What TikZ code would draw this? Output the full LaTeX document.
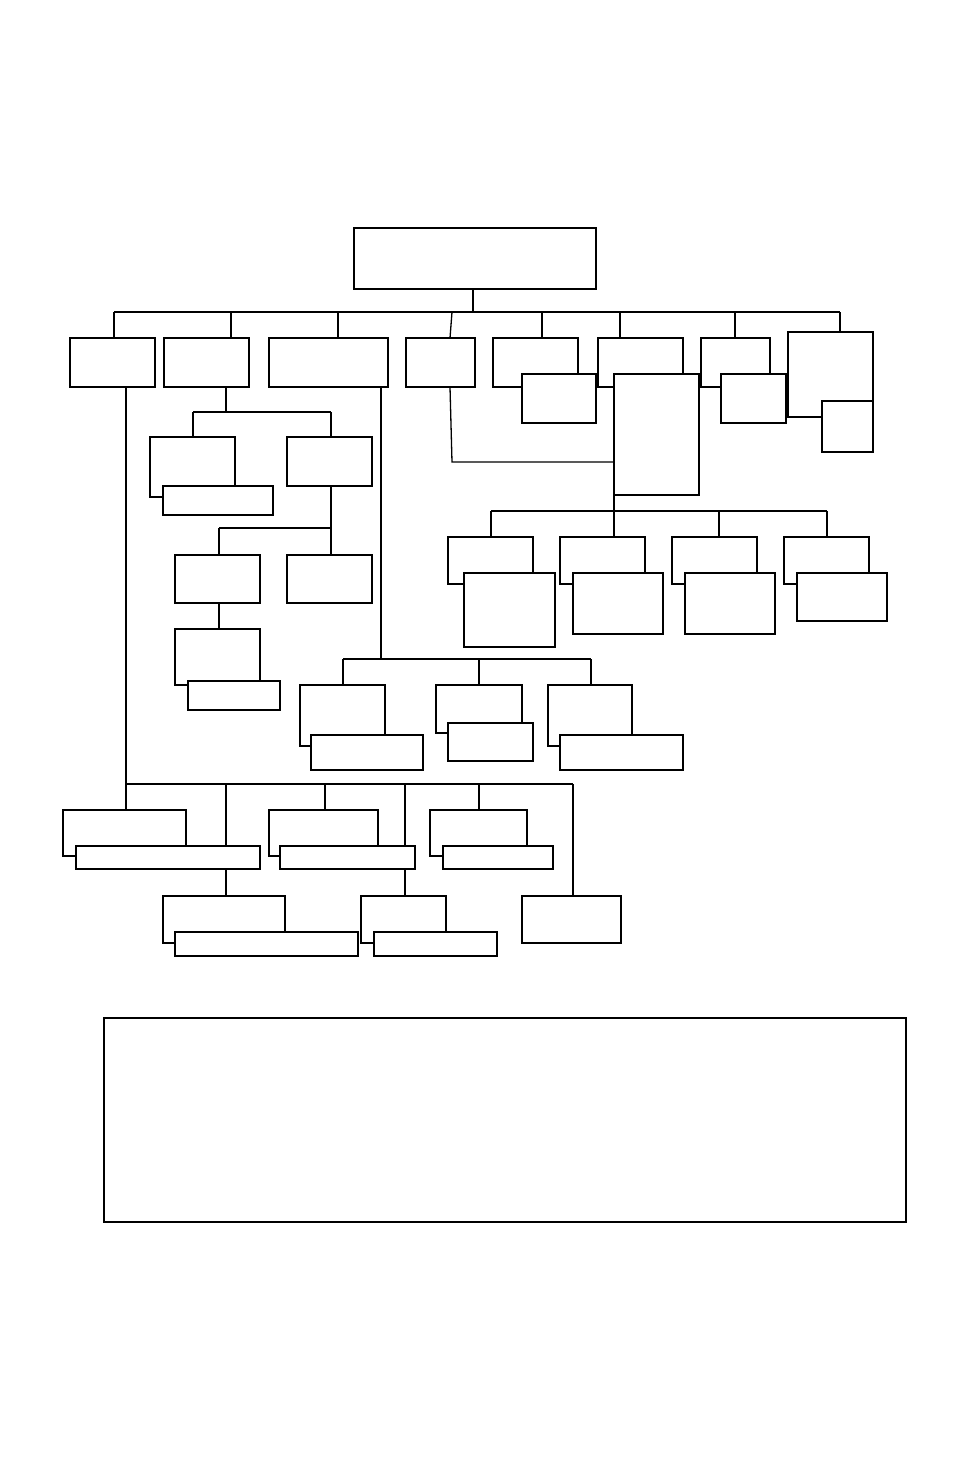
\documentclass[tikz,border=0pt]{standalone}
\usetikzlibrary{fit,backgrounds}
\begin{document}
\begin{tikzpicture}[x=1pt,y=-1pt,
  box/.style={draw, line width=1.8pt, fill=white, inner sep=0pt, outer sep=0pt},
  tbox/.style={box, line width=1.3pt},
  wire/.style={line width=1.8pt},
  twire/.style={line width=1.3pt}]
\useasboundingbox (0,0) rectangle (954,1475);
% boxes
\node[box, fit={(354,228) (596,289)}] (top) {};
\node[box, fit={(70,338) (155,387)}] (A) {};
\node[box, fit={(164,338) (249,387)}] (B) {};
\node[box, fit={(269,338) (388,387)}] (C) {};
\node[box, fit={(406,338) (475,387)}] (D) {};
\node[box, fit={(493,338) (578,387)}] (E) {};
\node[box, fit={(522,374) (596,423)}] (Es) {};
\node[box, fit={(598,338) (683,387)}] (F) {};
\node[box, fit={(614,374) (699,495)}] (Fs) {};
\node[box, fit={(701,338) (770,387)}] (G) {};
\node[box, fit={(721,374) (786,423)}] (Gs) {};
\node[box, fit={(788,332) (873,417)}] (H) {};
\node[box, fit={(822,401) (873,452)}] (Hs) {};
\node[box, fit={(150,437) (235,497)}] (B1) {};
\node[box, fit={(163,486) (273,515)}] (B1s) {};
\node[box, fit={(287,437) (372,486)}] (B2) {};
\node[box, fit={(175,555) (260,603)}] (B21) {};
\node[box, fit={(287,555) (372,603)}] (B22) {};
\node[box, fit={(175,629) (260,685)}] (B211) {};
\node[box, fit={(188,681) (280,710)}] (B211s) {};
\node[box, fit={(448,537) (533,584)}] (R1) {};
\node[box, fit={(464,573) (555,647)}] (R1s) {};
\node[box, fit={(560,537) (645,584)}] (R2) {};
\node[box, fit={(573,573) (663,634)}] (R2s) {};
\node[box, fit={(672,537) (757,584)}] (R3) {};
\node[box, fit={(685,573) (775,634)}] (R3s) {};
\node[box, fit={(784,537) (869,584)}] (R4) {};
\node[tbox, fit={(797,573) (887,621)}] (R4s) {};
\node[box, fit={(300,685) (385,746)}] (C1) {};
\node[box, fit={(311,735) (423,770)}] (C1s) {};
\node[box, fit={(436,685) (522,733)}] (C2) {};
\node[box, fit={(448,723) (533,761)}] (C2s) {};
\node[box, fit={(548,685) (632,746)}] (C3) {};
\node[box, fit={(560,735) (683,770)}] (C3s) {};
\node[tbox, fit={(63,810) (186,856)}] (L1) {};
\node[box, fit={(76,846) (260,869)}] (L1s) {};
\node[tbox, fit={(269,810) (378,856)}] (L2) {};
\node[box, fit={(280,846) (415,869)}] (L2s) {};
\node[tbox, fit={(430,810) (527,856)}] (L3) {};
\node[box, fit={(443,846) (553,869)}] (L3s) {};
\node[box, fit={(163,896) (285,943)}] (L11) {};
\node[box, fit={(175,932) (358,956)}] (L11s) {};
\node[box, fit={(361,896) (446,943)}] (L21) {};
\node[box, fit={(374,932) (497,956)}] (L21s) {};
\node[box, fit={(522,896) (621,943)}] (L4) {};
\node[box, fit={(104,1018) (906,1222)}] (note) {};
% connectors
\begin{scope}[on background layer]
\draw[wire] (top.south -| 473,0) -- (473,312);
\draw[twire] (114,312) -- (840,312);
\draw[wire] (114,312) -- (A.north -| 114,0);
\draw[wire] (231,312) -- (B.north -| 231,0);
\draw[wire] (338,312) -- (C.north -| 338,0);
\draw[twire] (452,312) -- (D.north -| 450,0);
\draw[wire] (542,312) -- (E.north -| 542,0);
\draw[wire] (620,312) -- (F.north -| 620,0);
\draw[wire] (735,312) -- (G.north -| 735,0);
\draw[wire] (840,312) -- (H.north -| 840,0);
% B branch
\draw[wire] (B.south -| 226,0) -- (226,412);
\draw[wire] (193,412) -- (331,412);
\draw[wire] (193,412) -- (B1.north -| 193,0);
\draw[wire] (331,412) -- (B2.north -| 331,0);
\draw[wire] (B2.south -| 331,0) -- (331,528);
\draw[wire] (219,528) -- (331,528);
\draw[wire] (219,528) -- (B21.north -| 219,0);
\draw[wire] (331,528) -- (B22.north -| 331,0);
\draw[wire] (B21.south -| 219,0) -- (B211.north -| 219,0);
% D and F branch
\draw[twire] (D.south -| 450,0) -- (452,462) -- (Fs.west |- 452,462);
\draw[wire] (Fs.south -| 614,0) -- (614,511);
\draw[wire] (491,511) -- (827,511);
\draw[twire] (491,511) -- (R1.north -| 491,0);
\draw[wire] (614,511) -- (R2.north -| 614,0);
\draw[wire] (719,511) -- (R3.north -| 719,0);
\draw[twire] (827,511) -- (R4.north -| 827,0);
% C branch
\draw[wire] (C.south -| 381,0) -- (381,659);
\draw[twire] (343,659) -- (591,659);
\draw[wire] (343,659) -- (C1.north -| 343,0);
\draw[wire] (479,659) -- (C2.north -| 479,0);
\draw[wire] (591,659) -- (C3.north -| 591,0);
% A branch
\draw[twire] (A.south -| 126,0) -- (L1.north -| 126,0);
\draw[wire] (126,784) -- (573,784);
\draw[wire] (226,784) -- (L11.north -| 226,0);
\draw[wire] (325,784) -- (L2.north -| 325,0);
\draw[wire] (405,784) -- (L21.north -| 405,0);
\draw[wire] (479,784) -- (L3.north -| 479,0);
\draw[wire] (573,784) -- (L4.north -| 573,0);
\end{scope}
\end{tikzpicture}
\end{document}
